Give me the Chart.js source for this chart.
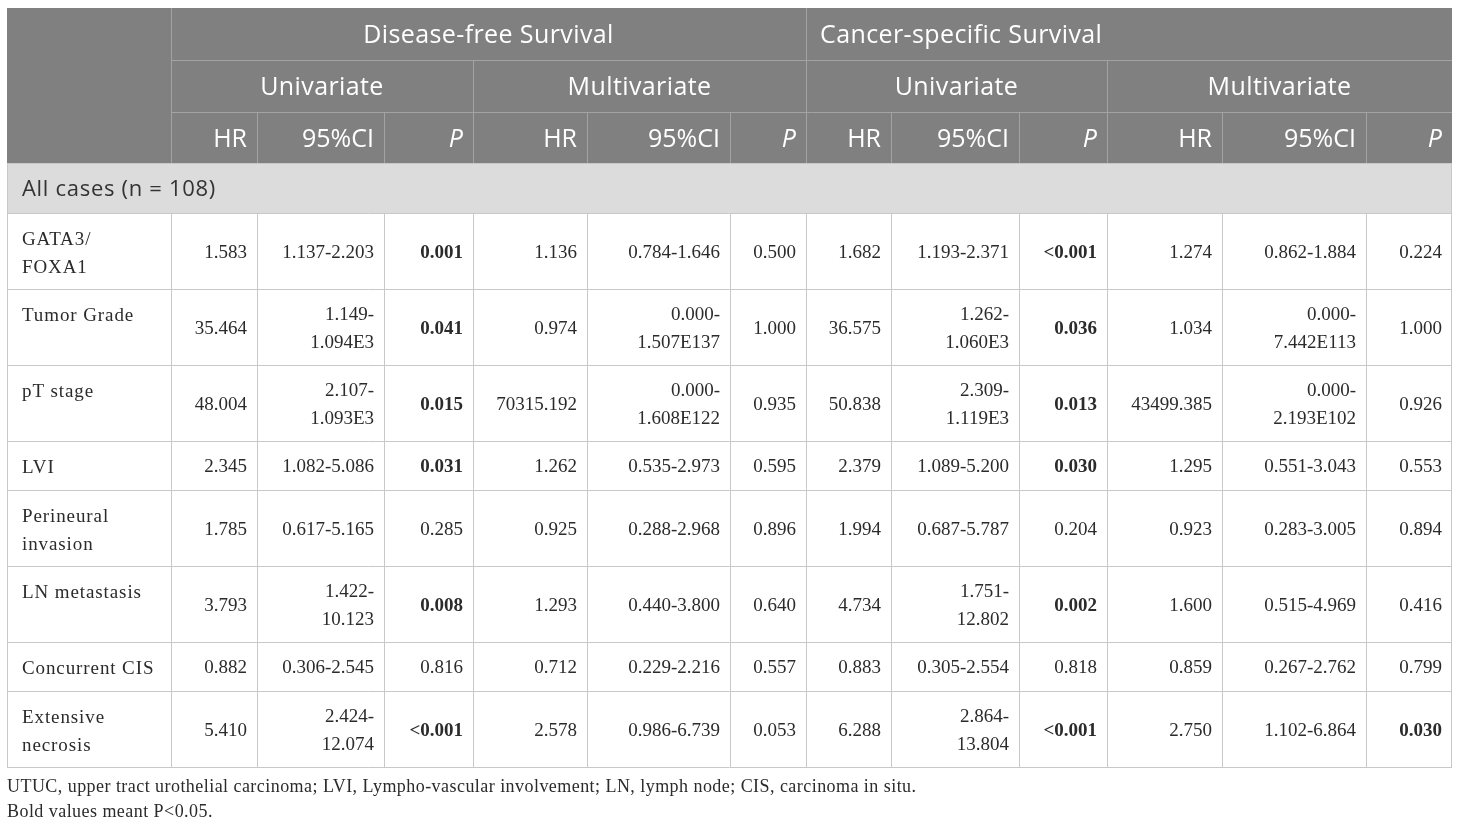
<!DOCTYPE html>
<html>
<head>
<meta charset="utf-8">
<script src="https://cdn.jsdelivr.net/npm/chart.js@4.4.1/dist/chart.umd.min.js"></script>
<style>
    html, body { margin: 0; padding: 0; background: #fff; }
    #wrap { width: 1460px; height: 824px; position: relative; }
</style>
</head>
<body>
<div id="wrap"><canvas id="coxTable"></canvas></div>
<script>
// Table content
const outcomes = ['Disease-free Survival', 'Cancer-specific Survival'];
const models = ['Univariate', 'Multivariate'];
const statCols = ['HR', '95%CI', 'P'];
const groupLabel = 'All cases (n = 108)';
const rowLabels = ['GATA3/\nFOXA1', 'Tumor Grade', 'pT stage', 'LVI', 'Perineural\ninvasion',
    'LN metastasis', 'Concurrent CIS', 'Extensive\nnecrosis'];

// Disease-free survival
const dfsUniHR = ['1.583', '35.464', '48.004', '2.345', '1.785', '3.793', '0.882', '5.410'];
const dfsUniCI = ['1.137-2.203', '1.149-\n1.094E3', '2.107-\n1.093E3', '1.082-5.086', '0.617-5.165',
    '1.422-\n10.123', '0.306-2.545', '2.424-\n12.074'];
const dfsUniP = ['0.001', '0.041', '0.015', '0.031', '0.285', '0.008', '0.816', '<0.001'];
const dfsMultiHR = ['1.136', '0.974', '70315.192', '1.262', '0.925', '1.293', '0.712', '2.578'];
const dfsMultiCI = ['0.784-1.646', '0.000-\n1.507E137', '0.000-\n1.608E122', '0.535-2.973', '0.288-2.968',
    '0.440-3.800', '0.229-2.216', '0.986-6.739'];
const dfsMultiP = ['0.500', '1.000', '0.935', '0.595', '0.896', '0.640', '0.557', '0.053'];

// Cancer-specific survival
const cssUniHR = ['1.682', '36.575', '50.838', '2.379', '1.994', '4.734', '0.883', '6.288'];
const cssUniCI = ['1.193-2.371', '1.262-\n1.060E3', '2.309-\n1.119E3', '1.089-5.200', '0.687-5.787',
    '1.751-\n12.802', '0.305-2.554', '2.864-\n13.804'];
const cssUniP = ['<0.001', '0.036', '0.013', '0.030', '0.204', '0.002', '0.818', '<0.001'];
const cssMultiHR = ['1.274', '1.034', '43499.385', '1.295', '0.923', '1.600', '0.859', '2.750'];
const cssMultiCI = ['0.862-1.884', '0.000-\n7.442E113', '0.000-\n2.193E102', '0.551-3.043', '0.283-3.005',
    '0.515-4.969', '0.267-2.762', '1.102-6.864'];
const cssMultiP = ['0.224', '1.000', '0.926', '0.553', '0.894', '0.416', '0.799', '0.030'];

const footnotes = [
    'UTUC, upper tract urothelial carcinoma; LVI, Lympho-vascular involvement; LN, lymph node; CIS, carcinoma in situ.',
    'Bold values meant P<0.05.'
];

const valueColumns = [dfsUniHR, dfsUniCI, dfsUniP, dfsMultiHR, dfsMultiCI, dfsMultiP,
    cssUniHR, cssUniCI, cssUniP, cssMultiHR, cssMultiCI, cssMultiP];

// Layout (table units)
const colWidths = [164, 86, 127, 89, 114, 143, 76, 85, 128, 88, 115, 144, 86];
const headerHeights = [52, 52, 51];
const groupHeight = 50;
const singleRow = 49;
const doubleRow = 76;
const lineH = 28;
const textDrop = 2;

const serif = '"Liberation Serif", "Times New Roman", serif';
const sans = '"Open Sans", "Noto Sans", sans-serif';

function isSignificant(p) {
    return p.charAt(0) === '<' || parseFloat(p) < 0.05;
}

const colEdges = [0];
colWidths.forEach(w => colEdges.push(colEdges[colEdges.length - 1] + w));

const rowHeights = rowLabels.map((label, i) => {
    const multi = label.includes('\n') || valueColumns.some(col => col[i].includes('\n'));
    return multi ? doubleRow : singleRow;
});
const rowEdges = [0];
headerHeights.concat([groupHeight], rowHeights).forEach(h => rowEdges.push(rowEdges[rowEdges.length - 1] + h));
const tableWidth = colEdges[colEdges.length - 1];
const tableHeight = rowEdges[rowEdges.length - 1];

const tablePlugin = {
    id: 'tableDraw',
    beforeDraw(chart) {
        const ctx = chart.ctx;
        ctx.save();
        ctx.fillStyle = '#fff';
        ctx.fillRect(0, 0, chart.width, chart.height);
        ctx.restore();
    },
    afterDraw(chart) {
        const ctx = chart.ctx;
        const xs = chart.scales.x, ys = chart.scales.y;
        const X = v => xs.getPixelForValue(v);
        const Y = v => ys.getPixelForValue(v);
        const cx = i => X(colEdges[i]);
        const ry = i => Y(rowEdges[i]);

        function hline(y, x0, x1, color) {
            ctx.strokeStyle = color;
            ctx.beginPath();
            ctx.moveTo(x0, Math.round(y) + 0.5);
            ctx.lineTo(x1, Math.round(y) + 0.5);
            ctx.stroke();
        }
        function vline(x, y0, y1, color) {
            ctx.strokeStyle = color;
            ctx.beginPath();
            ctx.moveTo(Math.round(x) + 0.5, y0);
            ctx.lineTo(Math.round(x) + 0.5, y1);
            ctx.stroke();
        }
        function lines(text, x0, x1, yMid, align, pad) {
            const parts = text.split('\n');
            ctx.textAlign = align;
            const tx = align === 'right' ? x1 - pad : align === 'left' ? x0 + pad : (x0 + x1) / 2;
            parts.forEach((t, k) => {
                ctx.fillText(t, tx, yMid + textDrop + (k - (parts.length - 1) / 2) * lineH);
            });
        }

        ctx.save();
        ctx.lineWidth = 1;
        ctx.textBaseline = 'middle';

        // header block
        const hx0 = cx(0), hx1 = cx(colWidths.length);
        ctx.fillStyle = '#808080';
        ctx.fillRect(hx0, ry(0), hx1 - hx0, ry(3) - ry(0));
        const hLine = '#a3a3a3';
        hline(ry(1), cx(1), hx1, hLine);
        hline(ry(2), cx(1), hx1, hLine);
        [1, 7].forEach(c => vline(cx(c), ry(0), ry(1), hLine));
        [1, 4, 7, 10].forEach(c => vline(cx(c), ry(1), ry(2), hLine));
        for (let c = 1; c < colWidths.length; c++) vline(cx(c), ry(2), ry(3), hLine);

        ctx.fillStyle = '#fff';
        ctx.letterSpacing = '0.4px';
        ctx.font = '400 25px ' + sans;
        outcomes.forEach((o, k) => {
            const a = cx(1 + k * 6), b = cx(7 + k * 6);
            lines(o, a, b, (ry(0) + ry(1)) / 2, k === 0 ? 'center' : 'left', 14);
        });
        const modelSpans = [[1, 4], [4, 7], [7, 10], [10, 13]];
        modelSpans.forEach((s, k) => {
            lines(models[k % 2], cx(s[0]), cx(s[1]), (ry(1) + ry(2)) / 2, 'center', 0);
        });
        ctx.letterSpacing = '0px';
        for (let c = 0; c < 12; c++) {
            const label = statCols[c % 3];
            ctx.font = (label === 'P' ? 'italic ' : '') + '400 25px ' + sans;
            lines(label, cx(c + 1), cx(c + 2), (ry(2) + ry(3)) / 2, 'right', 10);
        }

        // group row
        ctx.fillStyle = '#dcdcdc';
        ctx.fillRect(hx0, ry(3), hx1 - hx0, ry(4) - ry(3));
        ctx.fillStyle = '#333';
        ctx.font = '400 22px ' + sans;
        ctx.letterSpacing = '0.7px';
        lines(groupLabel, hx0, hx1, (ry(3) + ry(4)) / 2, 'left', 15);

        // body rows
        const grid = '#c8c8c8';
        rowLabels.forEach((label, i) => {
            const top = ry(4 + i), bot = ry(5 + i);
            ctx.fillStyle = '#2b2b2b';
            ctx.font = '400 19px ' + serif;
            ctx.letterSpacing = '0.9px';
            const n = label.split('\n').length;
            lines(label, cx(0), cx(1), top + 25 + (n - 1) * lineH / 2, 'left', 15);
            ctx.letterSpacing = '0px';
            valueColumns.forEach((col, c) => {
                const v = col[i];
                const bold = c % 3 === 2 && isSignificant(v);
                ctx.font = (bold ? '700 ' : '400 ') + '19px ' + serif;
                lines(v, cx(c + 1), cx(c + 2), (top + bot) / 2, 'right', 10);
            });
            hline(bot, hx0, hx1, grid);
        });
        hline(ry(3), hx0, hx1, grid);
        hline(ry(4), hx0, hx1, grid);
        vline(hx0, ry(3), ry(4), grid);
        vline(hx1 - 1, ry(3), ry(4), grid);
        for (let c = 0; c <= colWidths.length; c++) {
            vline(c === colWidths.length ? hx1 - 1 : cx(c), ry(4), ry(rowEdges.length - 1), grid);
        }

        // footnotes
        ctx.fillStyle = '#2b2b2b';
        ctx.font = '400 18px ' + serif;
        ctx.letterSpacing = '0.45px';
        footnotes.forEach((f, k) => {
            ctx.textAlign = 'left';
            ctx.fillText(f, hx0, ry(rowEdges.length - 1) + 20 + k * 25);
        });
        ctx.restore();
    }
};

new Chart(document.getElementById('coxTable'), {
    type: 'scatter',
    data: { datasets: [{ data: [] }] },
    options: {
        responsive: true,
        maintainAspectRatio: false,
        animation: false,
        layout: { padding: { left: 7, top: 8, right: 8, bottom: 824 - 8 - tableHeight } },
        plugins: { legend: { display: false }, tooltip: { enabled: false } },
        scales: {
            x: { type: 'linear', min: 0, max: tableWidth, display: false },
            y: { type: 'linear', min: 0, max: tableHeight, reverse: true, display: false }
        }
    },
    plugins: [tablePlugin]
});
</script>
</body>
</html>
